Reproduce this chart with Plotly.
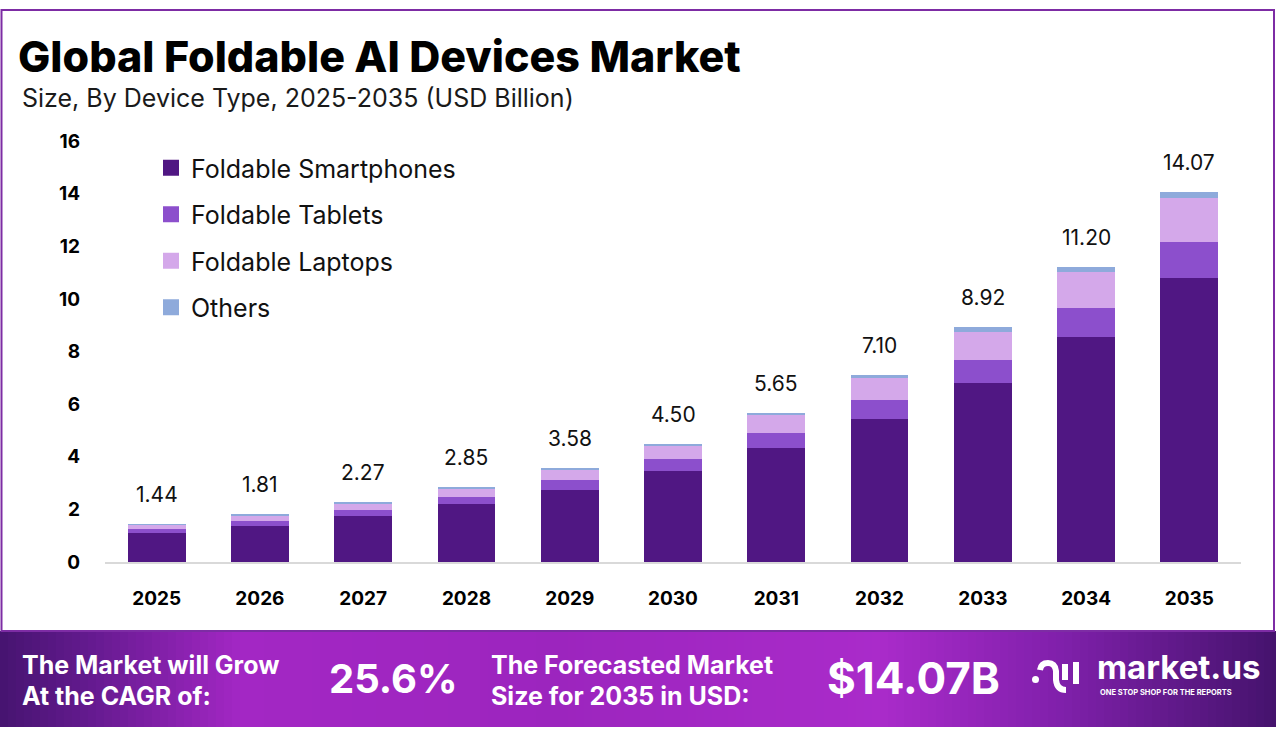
import plotly.graph_objects as go

years = ["2025", "2026", "2027", "2028", "2029", "2030", "2031", "2032", "2033", "2034", "2035"]
smartphones = [1.09, 1.38, 1.74, 2.19, 2.72, 3.44, 4.33, 5.44, 6.82, 8.57, 10.78]
tablets = [0.16, 0.18, 0.23, 0.28, 0.38, 0.47, 0.58, 0.72, 0.86, 1.10, 1.40]
laptops = [0.17, 0.22, 0.27, 0.34, 0.42, 0.52, 0.66, 0.84, 1.08, 1.36, 1.67]
others = [0.02, 0.03, 0.03, 0.04, 0.06, 0.07, 0.08, 0.10, 0.16, 0.17, 0.22]
totals = [1.44, 1.81, 2.27, 2.85, 3.58, 4.50, 5.65, 7.10, 8.92, 11.20, 14.07]
y_ticks = [0, 2, 4, 6, 8, 10, 12, 14, 16]

series = [
    ("Foldable Smartphones", smartphones, "#501783"),
    ("Foldable Tablets", tablets, "#8c4fcc"),
    ("Foldable Laptops", laptops, "#d4a8ea"),
    ("Others", others, "#8eaadb"),
]

W, H = 1276, 739
ML, MR, MT, MB = 105, 35, 141, 177
PW, PH = W - ML - MR, H - MT - MB
FONT = "Inter, 'Open Sans', sans-serif"


def px_x(x):
    return (x - ML) / PW


def px_y(y):
    return (H - MB - y) / PH


fig = go.Figure()
for i, (name, vals, col) in enumerate(series):
    fig.add_trace(go.Bar(x=years, y=vals, name=name, marker=dict(color=col, line=dict(width=0)),
                         showlegend=False, hoverinfo="x+y+name"))
for i, (name, vals, col) in enumerate(series):
    fig.add_trace(go.Scatter(x=[years[0]], y=[None], mode="markers", name=name, legendgroup=name,
                             marker=dict(symbol="square", size=16, color=col), showlegend=True,
                             hoverinfo="skip"))

annotations = []
# total labels above bars (category index positions on the category axis)
for i, t in enumerate(totals):
    annotations.append(dict(x=i, y=t, xref="x", yref="y", text=f"{t:.2f}", showarrow=False,
                            xanchor="center", yanchor="bottom", yshift=15,
                            font=dict(size=21, color="#111", family=FONT)))

shapes = []
# banner gradient
stops = [(0, (0x46, 0x14, 0x70)), (90, (0x64, 0x1a, 0x8f)), (240, (0xa3, 0x27, 0xc4)),
         (560, (0x9c, 0x25, 0xbe)), (880, (0xaa, 0x2b, 0xca)), (1060, (0x80, 0x20, 0xab)),
         (1276, (0x45, 0x13, 0x6d))]


def color_at(x):
    for (x0, c0), (x1, c1) in zip(stops[:-1], stops[1:]):
        if x0 <= x <= x1:
            f = (x - x0) / (x1 - x0)
            return "rgb(%d,%d,%d)" % tuple(round(a + (b - a) * f) for a, b in zip(c0, c1))
    return "rgb(%d,%d,%d)" % stops[-1][1]


step = 8
for x in range(0, W, step):
    shapes.append(dict(type="rect", xref="paper", yref="paper", x0=px_x(x), x1=px_x(x + step + 0.5),
                       y0=px_y(727), y1=px_y(631), fillcolor=color_at(x + step / 2), line=dict(width=0),
                       layer="below"))
# frame border
shapes.append(dict(type="rect", xref="paper", yref="paper", x0=px_x(1.5), x1=px_x(1274), y0=px_y(631),
                   y1=px_y(10), line=dict(color="#7d2ca4", width=2), fillcolor="rgba(0,0,0,0)"))


def P(x, y):
    return f"{px_x(x):.5f},{px_y(y):.5f}"


# logo icon
shapes.append(dict(type="circle", xref="paper", yref="paper", x0=px_x(1032), x1=px_x(1039),
                   y0=px_y(683), y1=px_y(676), fillcolor="white", line=dict(width=0)))
shapes.append(dict(type="path", xref="paper", yref="paper",
                   path=f"M{P(1040, 670)} Q{P(1041, 663)} {P(1048, 663)} Q{P(1055, 663)} {P(1056, 671)} "
                        f"L{P(1056, 680)} Q{P(1057, 690)} {P(1066, 690)}",
                   line=dict(color="white", width=6), fillcolor="rgba(0,0,0,0)"))
shapes.append(dict(type="line", xref="paper", yref="paper", x0=px_x(1065), x1=px_x(1065), y0=px_y(664),
                   y1=px_y(680), line=dict(color="white", width=6)))
shapes.append(dict(type="line", xref="paper", yref="paper", x0=px_x(1076), x1=px_x(1076), y0=px_y(662),
                   y1=px_y(684), line=dict(color="white", width=6)))


def txt(x, y, s, size, color="white", weight=700, xanchor="left", family=FONT):
    annotations.append(dict(x=px_x(x), y=px_y(y), xref="paper", yref="paper", text=s, showarrow=False,
                            xanchor=xanchor, yanchor="middle",
                            font=dict(size=size, color=color, family=family, weight=weight)))


txt(16, 56, "Global Foldable AI Devices Market", 43, color="#000", weight=800)
txt(20, 98, "Size, By Device Type, 2025-2035 (USD Billion)", 25, color="#1a1a1a", weight=400)
txt(20, 665, "The Market will Grow", 25)
txt(20, 696, "At the CAGR of:", 25)
txt(393, 678, "25.6%", 40, xanchor="center")
txt(489, 665, "The Forecasted Market", 25)
txt(489, 696, "Size for 2035 in USD:", 25)
txt(913, 678, "$14.07B", 44, xanchor="center")
txt(1095, 667, "market.us", 33)
txt(1098, 692, "ONE STOP SHOP FOR THE REPORTS", 7.5)

fig.update_layout(
    width=W, height=H, barmode="stack", bargap=0.44,
    margin=dict(l=ML, r=MR, t=MT, b=MB, pad=0),
    paper_bgcolor="white", plot_bgcolor="white",
    font=dict(family=FONT, color="#000"),
    xaxis=dict(type="category", categoryorder="array", categoryarray=years, range=[-0.5, 10.5],
               showgrid=False, showline=True, linecolor="#d9d9d9", linewidth=2,
               ticks="", tickfont=dict(size=19, weight=700, color="#000"), ticklabelstandoff=18,
               zeroline=False, fixedrange=True),
    yaxis=dict(range=[0, 16], tickvals=y_ticks, showgrid=False, showline=False, zeroline=False, ticks="",
               tickfont=dict(size=19, weight=700, color="#000"), ticklabelstandoff=24, fixedrange=True),
    legend=dict(x=px_x(151), y=px_y(145), xanchor="left", yanchor="top", bgcolor="rgba(0,0,0,0)",
                font=dict(size=25, color="#111", family=FONT), tracegroupgap=11, itemclick=False),
    annotations=annotations, shapes=shapes,
)

fig.write_html("out.html")
